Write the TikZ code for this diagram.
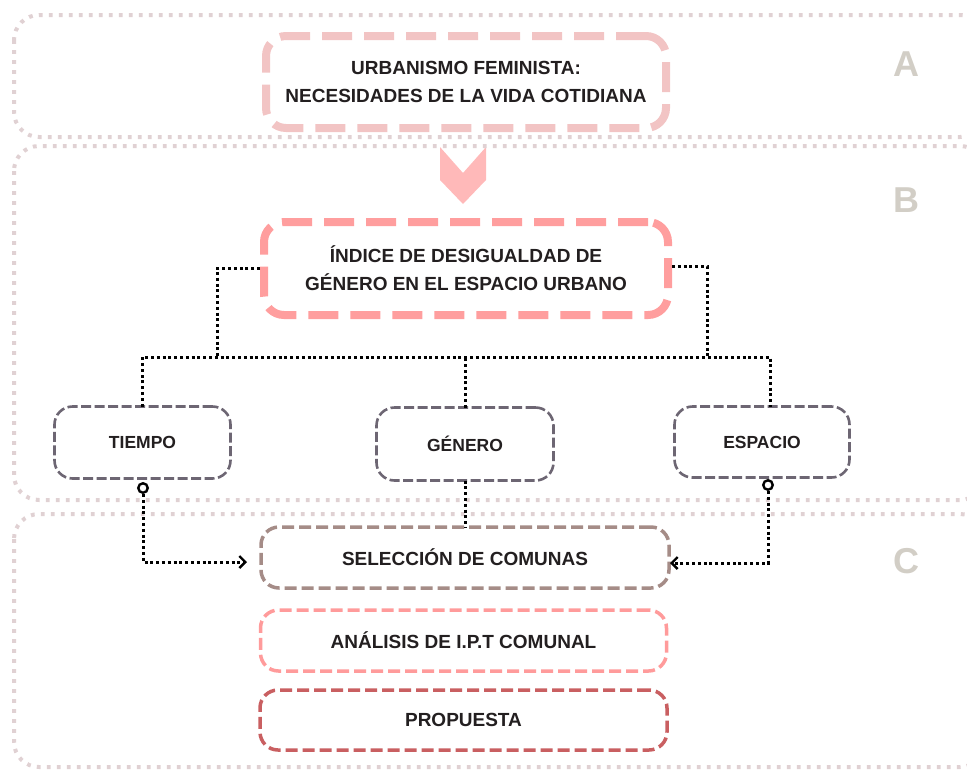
\documentclass[tikz,border=0pt]{standalone}
\usepackage{fontspec}
\setmainfont{Liberation Sans}
\usetikzlibrary{arrows.meta}
\definecolor{secc}{HTML}{E0D1D3}
\definecolor{boxa}{HTML}{F2C4C4}
\definecolor{chev}{HTML}{FFB9B9}
\definecolor{idxc}{HTML}{FF9E9E}
\definecolor{smallc}{HTML}{6D6673}
\definecolor{selc}{HTML}{A58C87}
\definecolor{anac}{HTML}{FF9B9B}
\definecolor{propc}{HTML}{C95F61}
\definecolor{txt}{HTML}{231F20}
\definecolor{letc}{HTML}{D2CEC6}
\tikzset{
  section/.style={draw=secc, line width=4pt, dash pattern=on 3.8pt off 6.2pt, rounded corners=25pt},
  bigbox/.style={draw, fill=white, line width=8pt, dash pattern=on 30pt off 12pt, rounded corners=20pt,
     align=center, text=txt, font=\bfseries\fontsize{19}{28}\selectfont, inner sep=0pt, outer sep=0pt},
  smallbox/.style={draw=smallc, fill=white, line width=2.6pt, dash pattern=on 10pt off 3.5pt, rounded corners=18pt,
     text=txt, font=\bfseries\fontsize{17.5}{20}\selectfont, inner sep=0pt, outer sep=0pt},
  stagebox/.style={draw, fill=white, line width=3.5pt, dash pattern=on 12pt off 5pt, rounded corners=18pt,
     text=txt, font=\bfseries\fontsize{19}{22}\selectfont, inner sep=0pt, outer sep=0pt},
  letter/.style={text=letc, font=\bfseries\fontsize{36}{40}\selectfont, inner sep=0pt},
  conn/.style={draw=black, line width=3pt, dash pattern=on 3pt off 2.8pt},
  tip/.style={-{Straight Barb[length=6pt,width=12pt,line width=2.4pt]}},
  dotc/.style={circle, draw=black, fill=white, line width=2.4pt, minimum size=9.5pt, inner sep=0pt},
}
\begin{document}
\begin{tikzpicture}[x=1pt,y=-1pt]
\useasboundingbox (0,0) rectangle (967,769);
\clip (0,0) rectangle (967,769);
% chevron
\fill[chev] (440,147) -- (463,173) -- (486,147) -- (486,180) -- (463,204) -- (440,180) -- cycle;
% sections
\draw[section] (14,15) rectangle (985,137);
\draw[section] (14,146) rectangle (985,500);
\draw[section] (14,514) rectangle (985,767);
\node[letter] (la) at (906,64) {A};
\node[letter] (lb) at (906,200) {B};
\node[letter] (lc) at (906,561) {C};
% boxes
\node[bigbox, draw=boxa, minimum width=400pt, minimum height=92pt] (urb) at (466,82)
  {URBANISMO FEMINISTA:\\NECESIDADES DE LA VIDA COTIDIANA};
\node[bigbox, draw=idxc, minimum width=404pt, minimum height=93pt] (idx) at (466,268.5)
  {ÍNDICE DE DESIGUALDAD DE\\GÉNERO EN EL ESPACIO URBANO};
\node[smallbox, minimum width=176pt, minimum height=72pt] (tiempo) at (142.5,442.5) {TIEMPO};
\node[smallbox, minimum width=177pt, minimum height=73pt] (genero) at (465,444) {GÉNERO};
\node[smallbox, minimum width=175pt, minimum height=71pt] (espacio) at (762,442) {ESPACIO};
\node[stagebox, draw=selc, minimum width=408pt, minimum height=61pt] (sel) at (465,557.5) {SELECCIÓN DE COMUNAS};
\node[stagebox, draw=anac, minimum width=406pt, minimum height=61pt] (ana) at (463.5,640.5) {ANÁLISIS DE I.P.T COMUNAL};
\node[stagebox, draw=propc, minimum width=407pt, minimum height=60pt] (prop) at (463.5,720) {PROPUESTA};
% connectors
\coordinate (jl) at (217,357);
\coordinate (jr) at (707,357);
\coordinate (bl) at (143,357);
\coordinate (br) at (770,357);
\draw[conn] (idx.west) ++(-4,0) -| (jl);
\draw[conn] (idx.east) ++(4,-2) -| (jr);
\draw[conn] (tiempo.north) |- (br) -- (br |- espacio.north);
\draw[conn] (genero.north) -- (genero.north |- jl);
\draw[conn] (genero.south) -- (genero.south |- sel.north);
\node[dotc] (ct) at (143,488) {};
\node[dotc] (ce) at (768,485) {};
\coordinate (kt) at (143,562);
\coordinate (ke) at (768,563);
\draw[conn, tip, shorten >=14pt] (ct) -- (kt) -- (kt -| sel.west);
\draw[conn, tip, shorten >=1pt] (ce) -- (ke) -- (ke -| sel.east);
\end{tikzpicture}
\end{document}
